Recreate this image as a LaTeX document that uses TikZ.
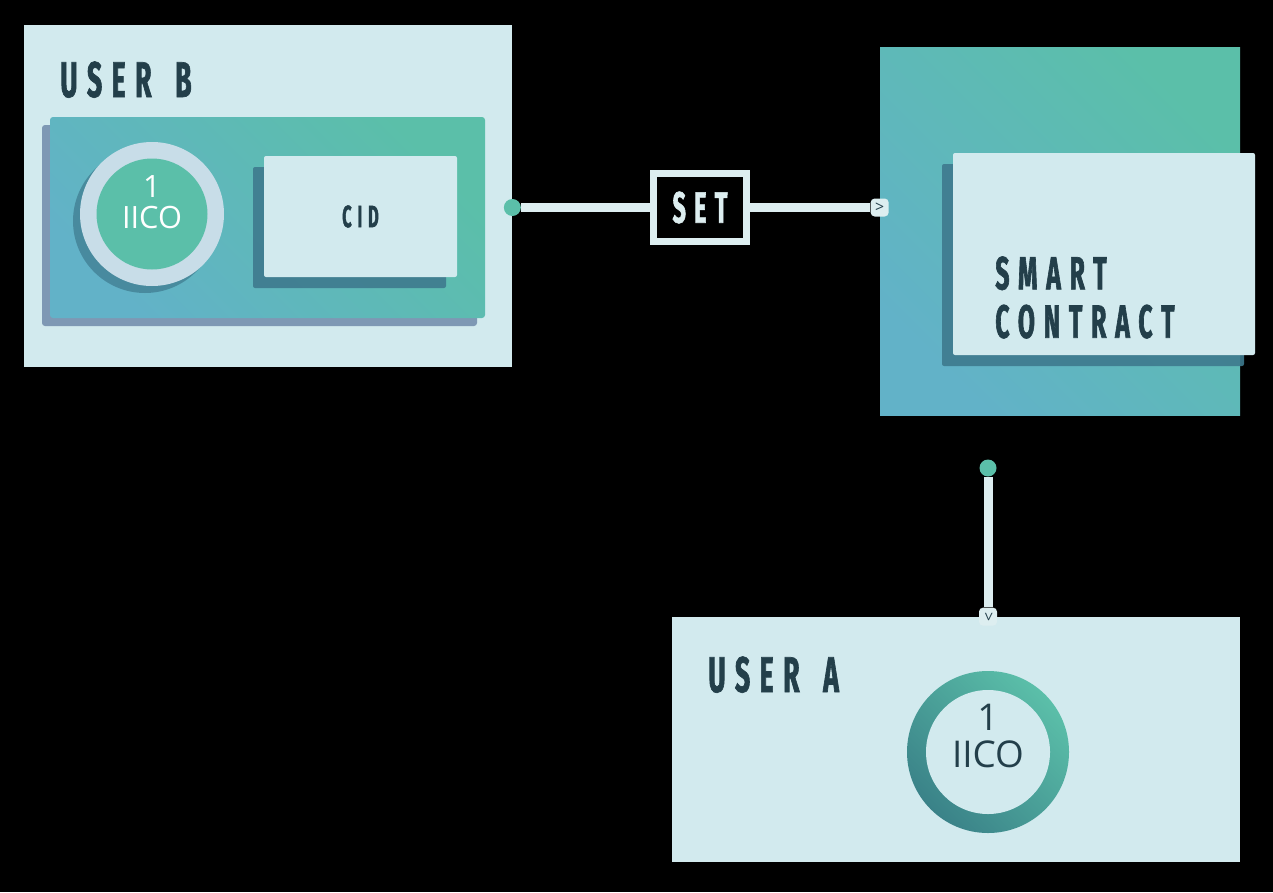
\documentclass[tikz,border=0pt]{standalone}
\usepackage{fontspec}
\setmainfont{Open Sans}
\newfontfamily\headfont[FakeStretch=0.53,FakeBold=1.3,LetterSpace=19,WordSpace=1.5]{Fira Sans}
\usetikzlibrary{shadows}
\definecolor{pale}{RGB}{210,234,238}
\definecolor{paleRing}{RGB}{200,221,232}
\definecolor{tealG}{RGB}{91,191,169}
\definecolor{tealB}{RGB}{98,178,200}
\definecolor{tealD}{RGB}{58,130,136}
\definecolor{ink}{RGB}{35,63,74}
\definecolor{shadeT}{RGB}{62,122,142}
\definecolor{shadeS}{RGB}{126,152,180}
\definecolor{wire}{RGB}{221,238,240}
\newcommand{\PX}{0.02cm}

\begin{document}
\begin{tikzpicture}[
    x=0.02cm, y=-0.02cm,
    size/.style 2 args={minimum width=#1*\PX, minimum height=#2*\PX},
    plate/.style={rectangle, fill=pale, inner sep=0pt},
    panel/.style={rectangle, bottom color=tealB, top color=tealG, shading angle=-45,
                  rounded corners=3*\PX, inner sep=0pt},
    card/.style={rectangle, fill=pale, rounded corners=2*\PX, inner sep=0pt,
                 drop shadow={shadow xshift=-11*\PX, shadow yshift=-11*\PX,
                              fill=shadeT, opacity=0.9}},
    head/.style={font=\headfont\bfseries\fontsize{28.5}{30}\selectfont, text=ink, inner sep=0pt},
    coin/.style={circle, inner sep=0pt},
    cointext/.style={inner sep=0pt, align=center},
    link/.style={draw=wire, line width=9*\PX},
    dot/.style={circle, fill=tealG, minimum size=17*\PX, inner sep=0pt},
    tipbox/.style={rectangle, rounded corners=4*\PX, fill=wire, minimum size=18*\PX, inner sep=0pt,
                   text=ink, font=\fontsize{9}{9}\selectfont},
    tagbox/.style={rectangle, draw=wire, line width=7*\PX, fill=black, text=wire, inner sep=0pt,
                   font=\headfont\bfseries\fontsize{25}{25}\selectfont},
  ]

  \fill[black] (0,0) rectangle (1273,892);

  %% ================= user B: the wallet with the coin and the CID =================
  \node[plate, size={488}{342}] (userB) at (268,196) {};
  \node[head, anchor=base west] (userBlbl) at (60,97) {USER B};
  \node[panel, size={435}{201},
        drop shadow={shadow xshift=-8*\PX, shadow yshift=-8*\PX, fill=shadeS, opacity=1}]
        (walletB) at (267.5,217.5) {};
  \node[coin, fill=paleRing, minimum size=144*\PX,
        drop shadow={shadow xshift=-7*\PX, shadow yshift=-7*\PX, fill=shadeT, opacity=0.7}]
        (ringB) at (152,214) {};
  \node[coin, fill=tealG, minimum size=111*\PX] (coinB) at (152,214) {};
  \node[cointext, text=white, font=\fontsize{17.5}{17.5}\selectfont]
        (coinBtxt) at ([yshift=12*\PX]coinB.center) {1\\IICO};
  \node[card, size={193}{121},
        font=\headfont\bfseries\fontsize{17.5}{16}\selectfont, text=ink] (cidB) at (360.5,216.5) {CID};

  %% ================= the smart contract =================
  \node[panel, size={360}{367}, rounded corners=0pt] (contract) at (1060,231.5) {};
  \node[card, size={302}{202}] (contractCard) at (1104,254) {};
  \node[head, anchor=north west, align=left, font=\headfont\bfseries\fontsize{26.5}{27.5}\selectfont]
        (contractLbl) at (995,256) {SMART\\CONTRACT};

  %% ---- B sends the coin to the contract ----
  \node[tagbox, size={93}{68}] (setL) at (700,207.5) {SET};
  \node[dot] (dotB) at (userB.east |- setL) {};
  \node[tipbox] (tipC) at (contract.west |- setL) {>};
  \draw[link] (dotB) -- (setL);
  \draw[link] (setL) -- (tipC);

  %% ================= user A: receives the coin =================
  \node[plate, size={568}{245}] (userA) at (956,739.5) {};
  \node[head, anchor=base west] (userAlbl) at (708,692) {USER A};
  \node[coin, bottom color=tealD, top color=tealG, shading angle=-45, minimum size=162*\PX]
        (ringA) at (988,752) {};
  \node[coin, fill=pale, minimum size=124*\PX] (coinA) at (988,752) {};
  \node[cointext, text=ink, font=\fontsize{21}{21}\selectfont]
        (coinAtxt) at ([yshift=16*\PX]coinA.center) {1\\IICO};

  %% ---- the contract hands it over ----
  \node[dot] (dotA) at (988,468) {};
  \node[tipbox, rotate=-90] (tipA) at (ringA |- userA.north) {>};
  \draw[link] (dotA) -- (tipA);

\end{tikzpicture}
\end{document}
